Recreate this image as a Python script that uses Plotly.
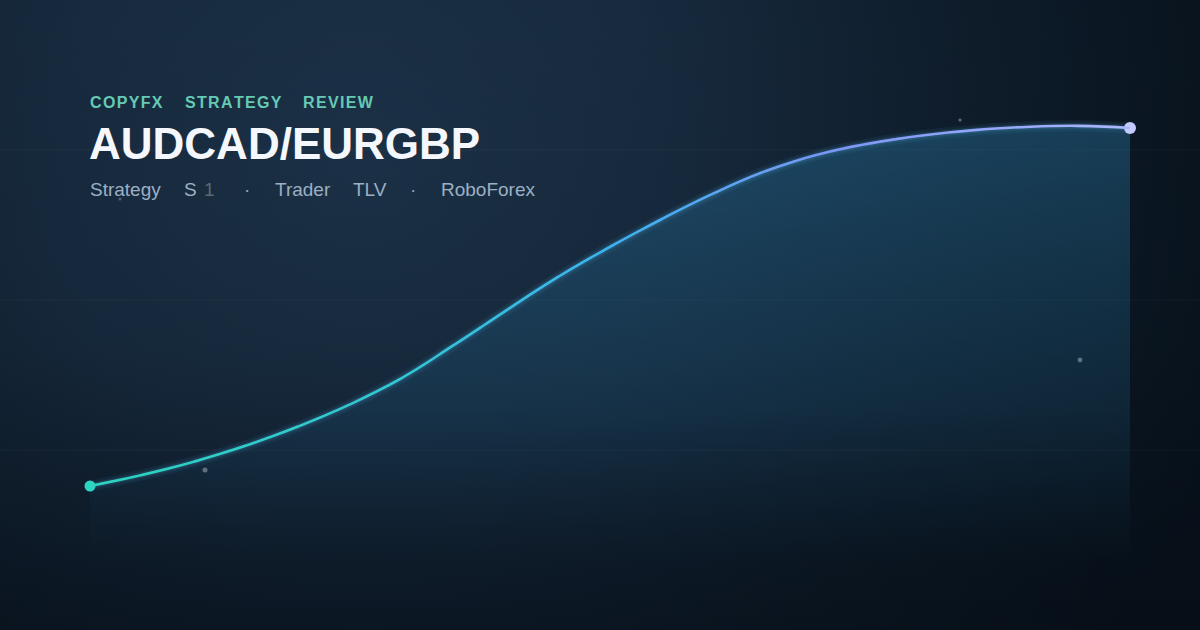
import base64
import plotly.graph_objects as go

# ---- data -------------------------------------------------------------
period = list(range(21))
equity_pct = [0.0, 3.1, 6.8, 11.3, 16.6, 22.8, 30.2, 39.4, 49.0, 58.4,
              66.8, 74.6, 81.8, 88.0, 92.6, 95.7, 97.9, 99.4, 100.3, 100.6,
              100.0]
header_words = ["COPYFX", "STRATEGY", "REVIEW"]
title_text = "AUDCAD/EURGBP"
sub_items = ["Strategy", "S", "1", "·", "Trader", "TLV", "·", "RoboForex"]

W, H = 1200, 630
FONT = "Liberation Sans, Arial, sans-serif"
SMOOTH = 1.3

# ---- background (svg gradient image) ---------------------------------
svg = f"""<svg xmlns='http://www.w3.org/2000/svg' width='{W}' height='{H}'>
<defs>
<radialGradient id='r' gradientUnits='userSpaceOnUse' cx='360' cy='170' r='900'>
<stop offset='0' stop-color='#1c3248'/>
<stop offset='0.35' stop-color='#172a3e'/>
<stop offset='0.7' stop-color='#0e1c2a'/>
<stop offset='1' stop-color='#08121c'/>
</radialGradient>
<linearGradient id='l' x1='0' y1='0' x2='0' y2='1'>
<stop offset='0' stop-color='#050c14' stop-opacity='0'/>
<stop offset='0.55' stop-color='#050c14' stop-opacity='0.1'/>
<stop offset='1' stop-color='#050c14' stop-opacity='0.55'/>
</linearGradient>
</defs>
<rect width='{W}' height='{H}' fill='url(#r)'/>
<rect width='{W}' height='{H}' fill='url(#l)'/>
</svg>"""
bg_uri = "data:image/svg+xml;base64," + base64.b64encode(svg.encode()).decode()

# ---- colour ramp for the line ----------------------------------------
stops = [(0.0, (45, 212, 191)), (0.3, (50, 200, 212)), (0.5, (60, 180, 240)),
         (0.72, (125, 150, 246)), (1.0, (172, 184, 253))]


def ramp(t):
    t = min(max(t, 0.0), 1.0)
    for (t0, c0), (t1, c1) in zip(stops[:-1], stops[1:]):
        if t <= t1:
            f = (t - t0) / (t1 - t0)
            return "rgb(%d,%d,%d)" % tuple(round(a + (b - a) * f) for a, b in zip(c0, c1))
    return "rgb(%d,%d,%d)" % stops[-1][1]


# ---- axis mapping ----------------------------------------------------
PX0, PX1 = 90, 1130          # pixel x of first / last period
PY0, PY1 = 486, 128          # pixel y of first / last value
px_per_unit = (PX1 - PX0) / (period[-1] - period[0])
x_lo = period[0] - PX0 / px_per_unit
x_hi = period[0] + (W - PX0) / px_per_unit
pct_per_px = (equity_pct[-1] - equity_pct[0]) / (PY0 - PY1)
y_lo = equity_pct[0] - (H - PY0) * pct_per_px
y_hi = equity_pct[0] + PY0 * pct_per_px


def px_to_x(p):
    return x_lo + p / px_per_unit


fig = go.Figure()

# fill base (bottom of fade) and gradient area
y_floor = -21
fig.add_trace(go.Scatter(x=period, y=[y_floor] * len(period), mode="lines",
                         line=dict(width=0), hoverinfo="skip", showlegend=False))
fig.add_trace(go.Scatter(
    x=period, y=equity_pct, mode="lines",
    line=dict(width=0, shape="spline", smoothing=SMOOTH),
    fill="tonexty",
    fillgradient=dict(type="vertical", start=y_floor, stop=100,
                      colorscale=[[0, "rgba(20,60,90,0)"],
                                  [0.35, "rgba(28,80,112,0.30)"],
                                  [1, "rgba(38,110,150,0.45)"]]),
    hoverinfo="skip", showlegend=False))

# glow
fig.add_trace(go.Scatter(x=period, y=equity_pct, mode="lines",
                         line=dict(width=11, color="rgba(80,180,240,0.07)",
                                   shape="spline", smoothing=SMOOTH),
                         hoverinfo="skip", showlegend=False))
fig.add_trace(go.Scatter(x=period, y=equity_pct, mode="lines",
                         line=dict(width=6, color="rgba(90,190,245,0.12)",
                                   shape="spline", smoothing=SMOOTH),
                         hoverinfo="skip", showlegend=False))

# gradient-coloured line: same spline drawn in narrow vertical strips,
# each strip is its own x-axis (same scale) clipped to its domain
strip_edges = list(range(PX0, PX1 + 1, 26))
if strip_edges[-1] != PX1:
    strip_edges.append(PX1)
strip_edges[0] = 0
strip_edges[-1] = W
axes_layout = {}
for k in range(len(strip_edges) - 1):
    a, b = strip_edges[k], strip_edges[k + 1]
    name = "xaxis%d" % (k + 2)
    axes_layout[name] = dict(domain=[a / W, b / W], range=[px_to_x(a), px_to_x(b)],
                             anchor="y", visible=False, fixedrange=True)
    mid = (max(a, PX0) + min(b, PX1)) / 2
    t = (mid - PX0) / (PX1 - PX0)
    fig.add_trace(go.Scatter(x=period, y=equity_pct, mode="lines", xaxis="x%d" % (k + 2),
                             line=dict(width=2.6, color=ramp(t), shape="spline",
                                       smoothing=SMOOTH),
                             hoverinfo="skip", showlegend=False))

# endpoint markers
fig.add_trace(go.Scatter(x=[period[0]], y=[equity_pct[0]], mode="markers",
                         marker=dict(size=11, color="#2dd4bf"),
                         hoverinfo="skip", showlegend=False))
fig.add_trace(go.Scatter(x=[period[-1]], y=[equity_pct[-1]], mode="markers",
                         marker=dict(size=21, color="rgba(0,0,0,0)", symbol="circle-open",
                                     line=dict(width=1.2, color="rgba(170,182,253,0.55)")),
                         hoverinfo="skip", showlegend=False))
fig.add_trace(go.Scatter(x=[period[-1]], y=[equity_pct[-1]], mode="markers",
                         marker=dict(size=12, color="#c3cbfe"),
                         hoverinfo="skip", showlegend=False))

# ---- shapes: faint horizontal rules, particles -----------------------
shapes = []
for py in (150, 300, 450):
    shapes.append(dict(type="line", xref="paper", yref="paper", x0=0, x1=1,
                       y0=1 - py / H, y1=1 - py / H,
                       line=dict(color="rgba(255,255,255,0.045)", width=1), layer="below"))
for px, py, r, op in [(120, 199, 1.5, 0.35), (205, 470, 2.5, 0.45),
                      (960, 120, 1.6, 0.45), (1080, 360, 2.4, 0.45)]:
    shapes.append(dict(type="circle", xref="paper", yref="paper",
                       x0=(px - r) / W, x1=(px + r) / W,
                       y0=1 - (py + r) / H, y1=1 - (py - r) / H,
                       fillcolor=f"rgba(190,200,215,{op})", line=dict(width=0)))

# ---- annotations -----------------------------------------------------
ann = []
HS = "\u200a"
for word, px in zip(header_words, (88, 183, 301)):
    ann.append(dict(text="<b>" + HS.join(word) + "</b>", x=px / W, y=1 - 103 / H,
                    xref="paper", yref="paper", xanchor="left", yanchor="middle",
                    showarrow=False, font=dict(family=FONT, size=16, color="#66c9b4")))
ann.append(dict(text="<b>" + title_text + "</b>", x=87 / W, y=1 - 144 / H,
                xref="paper", yref="paper", xanchor="left", yanchor="middle",
                showarrow=False, font=dict(family=FONT, size=44, color="#f4f7fb")))
sub_x = [88, 182, 202, 242, 273, 351, 408, 439]
sub_col = ["#9bb0c4", "#9bb0c4", "#5d6a70", "#8ea3b8", "#9bb0c4", "#9bb0c4", "#8ea3b8", "#9bb0c4"]
for t, px, c in zip(sub_items, sub_x, sub_col):
    ann.append(dict(text=t, x=px / W, y=1 - 189 / H, xref="paper", yref="paper",
                    xanchor="left", yanchor="middle", showarrow=False,
                    font=dict(family=FONT, size=19, color=c)))

# ---- layout ----------------------------------------------------------
fig.update_layout(
    width=W, height=H, margin=dict(l=0, r=0, t=0, b=0),
    paper_bgcolor="#0c1824", plot_bgcolor="rgba(0,0,0,0)",
    xaxis=dict(range=[x_lo, x_hi], visible=False, fixedrange=True),
    yaxis=dict(range=[y_lo, y_hi], visible=False, fixedrange=True),
    images=[dict(source=bg_uri, xref="paper", yref="paper", x=0, y=1,
                 sizex=1, sizey=1, sizing="stretch", layer="below",
                 xanchor="left", yanchor="top")],
    shapes=shapes, annotations=ann, showlegend=False,
    **axes_layout,
)

fig.write_html("out.html", config={"displayModeBar": False},
               post_script="document.body.style.margin='0';"
                           "document.body.style.background='#0c1824';")
